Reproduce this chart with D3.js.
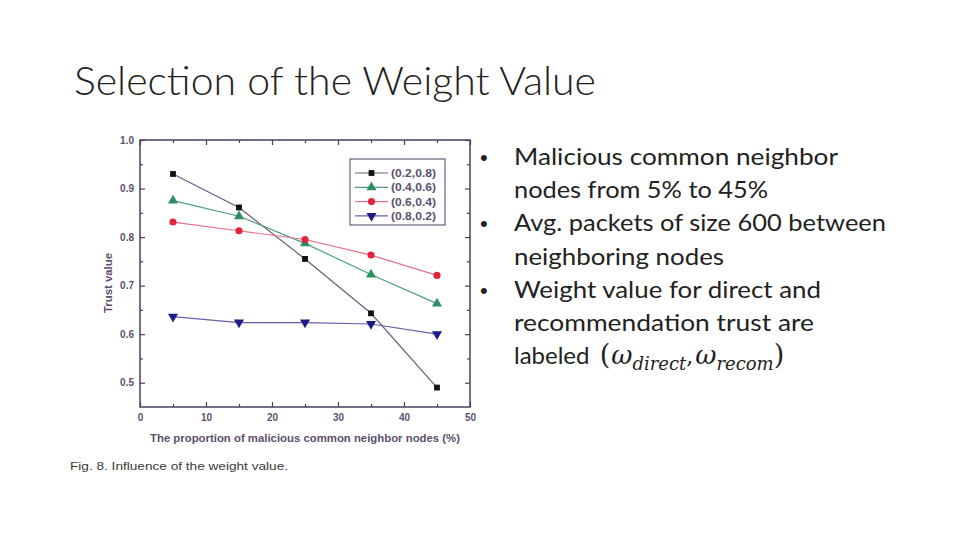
<!DOCTYPE html>
<html><head><meta charset="utf-8">
<script src="https://cdn.jsdelivr.net/npm/d3@7"></script>
<style>
html,body{margin:0;padding:0;background:#fff;}
svg{display:block;}
</style></head>
<body>
<svg id="c" width="960" height="540"></svg>
<script>
const xValues = [5, 15, 25, 35, 45];
const seriesNames = ["(0.2,0.8)", "(0.4,0.6)", "(0.6,0.4)", "(0.8,0.2)"];
const s1 = [0.930, 0.861, 0.755, 0.643, 0.490];
const s2 = [0.875, 0.843, 0.787, 0.723, 0.663];
const s3 = [0.831, 0.813, 0.795, 0.763, 0.721];
const s4 = [0.636, 0.624, 0.624, 0.621, 0.600];
const xTicks = [0, 10, 20, 30, 40, 50];
const yTicks = [0.5, 0.6, 0.7, 0.8, 0.9, 1.0];
const bullets = [
  ["Malicious common neighbor", "nodes from 5% to 45%"],
  ["Avg. packets of size 600 between", "neighboring nodes"],
  ["Weight value for direct and", "recommendation trust are", "labeled "]
];

const svg = d3.select("#c");
const styles = [
  {line:"#6e5c7e", fill:"#111111", sym:d3.symbolSquare, size:34},
  {line:"#4f9c84", fill:"#2f8f62", sym:d3.symbolTriangle, size:44},
  {line:"#e8708a", fill:"#e3243c", sym:d3.symbolCircle, size:40},
  {line:"#6a5eaa", fill:"#1c1c86", sym:"tri-down", size:44}
];
const allSeries = [s1, s2, s3, s4];

// Title
svg.append("text").attr("x", 74).attr("y", 95)
  .attr("font-family", "Lato, 'Open Sans', sans-serif").attr("font-weight", 300)
  .attr("font-size", 40).attr("fill", "#222")
  .attr("textLength", 522).attr("lengthAdjust", "spacingAndGlyphs")
  .text("Selection of the Weight Value");

// Scales
const x = d3.scaleLinear().domain([0, 50]).range([140, 470]);
const y = d3.scaleLinear().domain([0.45, 1.0]).range([407, 140]);
const axisColor = "#4e3d60";
const labelColor = "#5e4f6e";
const chartFont = "'Liberation Sans', Arial, sans-serif";

function styleAxis(g) {
  g.select(".domain").remove();
  g.selectAll("line").attr("stroke", axisColor).attr("stroke-width", 1.2);
  g.selectAll("text").attr("fill", labelColor).attr("font-family", chartFont)
    .attr("font-size", 10).attr("font-weight", "bold");
}
const xMinor = d3.range(5, 50, 10);
const yMinor = d3.range(0.55, 1.0, 0.1);

// bottom
svg.append("g").attr("transform", "translate(0,407)")
  .call(d3.axisBottom(x).tickValues(xTicks).tickSize(-5).tickPadding(7).tickFormat(d3.format("d")))
  .call(styleAxis);
svg.append("g").attr("transform", "translate(0,407)")
  .call(d3.axisBottom(x).tickValues(xMinor).tickSize(-3).tickFormat(""))
  .call(styleAxis);
// top
svg.append("g").attr("transform", "translate(0,140)")
  .call(d3.axisTop(x).tickValues(xTicks).tickSize(-5).tickFormat(""))
  .call(styleAxis);
svg.append("g").attr("transform", "translate(0,140)")
  .call(d3.axisTop(x).tickValues(xMinor).tickSize(-3).tickFormat(""))
  .call(styleAxis);
// left
svg.append("g").attr("transform", "translate(140,0)")
  .call(d3.axisLeft(y).tickValues(yTicks).tickSize(-5).tickPadding(6).tickFormat(d3.format(".1f")))
  .call(styleAxis);
svg.append("g").attr("transform", "translate(140,0)")
  .call(d3.axisLeft(y).tickValues(yMinor).tickSize(-3).tickFormat(""))
  .call(styleAxis);
// right
svg.append("g").attr("transform", "translate(470,0)")
  .call(d3.axisRight(y).tickValues(yTicks).tickSize(-5).tickFormat(""))
  .call(styleAxis);
svg.append("g").attr("transform", "translate(470,0)")
  .call(d3.axisRight(y).tickValues(yMinor).tickSize(-3).tickFormat(""))
  .call(styleAxis);

// frame
svg.append("rect").attr("x", x(0)).attr("y", y(1.0))
  .attr("width", x(50) - x(0)).attr("height", y(0.45) - y(1.0))
  .attr("fill", "none").attr("stroke", axisColor).attr("stroke-width", 1.5);

// axis titles
svg.append("text").attr("x", 305).attr("y", 442).attr("text-anchor", "middle")
  .attr("font-family", chartFont).attr("font-weight", "bold")
  .attr("font-size", 11).attr("fill", labelColor)
  .attr("textLength", 310).attr("lengthAdjust", "spacingAndGlyphs")
  .text("The proportion of malicious common neighbor nodes (%)");
svg.append("text").attr("transform", "translate(112,283) rotate(-90)").attr("text-anchor", "middle")
  .attr("font-family", chartFont).attr("font-weight", "bold")
  .attr("font-size", 11.5).attr("fill", labelColor)
  .attr("textLength", 60).attr("lengthAdjust", "spacingAndGlyphs")
  .text("Trust value");

// caption
svg.append("text").attr("x", 70).attr("y", 470)
  .attr("font-family", chartFont)
  .attr("font-size", 11).attr("fill", "#3a3a3a")
  .attr("textLength", 218).attr("lengthAdjust", "spacingAndGlyphs")
  .text("Fig. 8. Influence of the weight value.");

function symPath(st) {
  if (st.sym === "tri-down") {
    return d3.symbol().type(d3.symbolTriangle).size(st.size)();
  }
  return d3.symbol().type(st.sym).size(st.size)();
}
function symRot(st) { return st.sym === "tri-down" ? " rotate(180)" : ""; }

// lines & markers
const line = d3.line().x((d, i) => x(xValues[i])).y(d => y(d));
allSeries.forEach((vals, k) => {
  const st = styles[k];
  svg.append("path").datum(vals).attr("d", line)
    .attr("fill", "none").attr("stroke", st.line).attr("stroke-width", 1.2);
  svg.append("g").selectAll("path").data(vals).join("path")
    .attr("d", symPath(st))
    .attr("transform", (d, i) => `translate(${x(xValues[i])},${y(d)})${symRot(st)}`)
    .attr("fill", st.fill);
});

// legend
const lg = svg.append("g");
lg.append("rect").attr("x", 350).attr("y", 159).attr("width", 95).attr("height", 66)
  .attr("fill", "#fff").attr("stroke", axisColor).attr("stroke-width", 1);
seriesNames.forEach((name, k) => {
  const st = styles[k];
  const yy = 173 + k * 14.3;
  lg.append("line").attr("x1", 355).attr("x2", 388).attr("y1", yy).attr("y2", yy)
    .attr("stroke", st.line).attr("stroke-width", 1.2);
  lg.append("path").attr("d", symPath(st))
    .attr("transform", `translate(371.5,${yy})${symRot(st)}`).attr("fill", st.fill);
  lg.append("text").attr("x", 391).attr("y", yy + 4)
    .attr("font-family", chartFont).attr("font-weight", "bold")
    .attr("font-size", 11).attr("fill", labelColor)
    .attr("textLength", 45).attr("lengthAdjust", "spacingAndGlyphs").text(name);
});

// bullets
const bodyFont = "Lato, 'Open Sans', sans-serif";
const lineWidths = [[324, 254], [372, 210], [307, 300, 0]];
let baseY = 165;
bullets.forEach((lines, b) => {
  svg.append("text").attr("x", 480).attr("y", baseY).attr("font-family", chartFont)
    .attr("font-size", 22).attr("fill", "#222").text("•");
  lines.forEach((t, j) => {
    const tx = svg.append("text").attr("x", 514).attr("y", baseY)
      .attr("font-family", bodyFont).attr("font-size", 24).attr("fill", "#222");
    if (lineWidths[b][j]) {
      tx.attr("textLength", lineWidths[b][j]).attr("lengthAdjust", "spacingAndGlyphs").text(t);
    } else {
      tx.text(t);
      const mf = "'DejaVu Serif', 'Liberation Serif', serif";
      const add = (s, opts) => {
        const ts = tx.append("tspan").text(s).attr("font-family", mf);
        if (opts.italic) ts.attr("font-style", "italic");
        if (opts.size) ts.attr("font-size", opts.size);
        if (opts.dy !== undefined) ts.attr("dy", opts.dy);
        if (opts.dx !== undefined) ts.attr("dx", opts.dx);
        return ts;
      };
      add("(", {size: 27, dx: 4});
      add("ω", {italic: true, size: 26, dx: 1});
      add("direct", {italic: true, size: 18, dy: 6});
      add(",", {size: 22, dy: -6});
      add("ω", {italic: true, size: 26, dx: 2});
      add("recom", {italic: true, size: 18, dy: 6});
      add(")", {size: 27, dy: -6});
    }
    baseY += 33.2;
  });
});
</script>
</body></html>
